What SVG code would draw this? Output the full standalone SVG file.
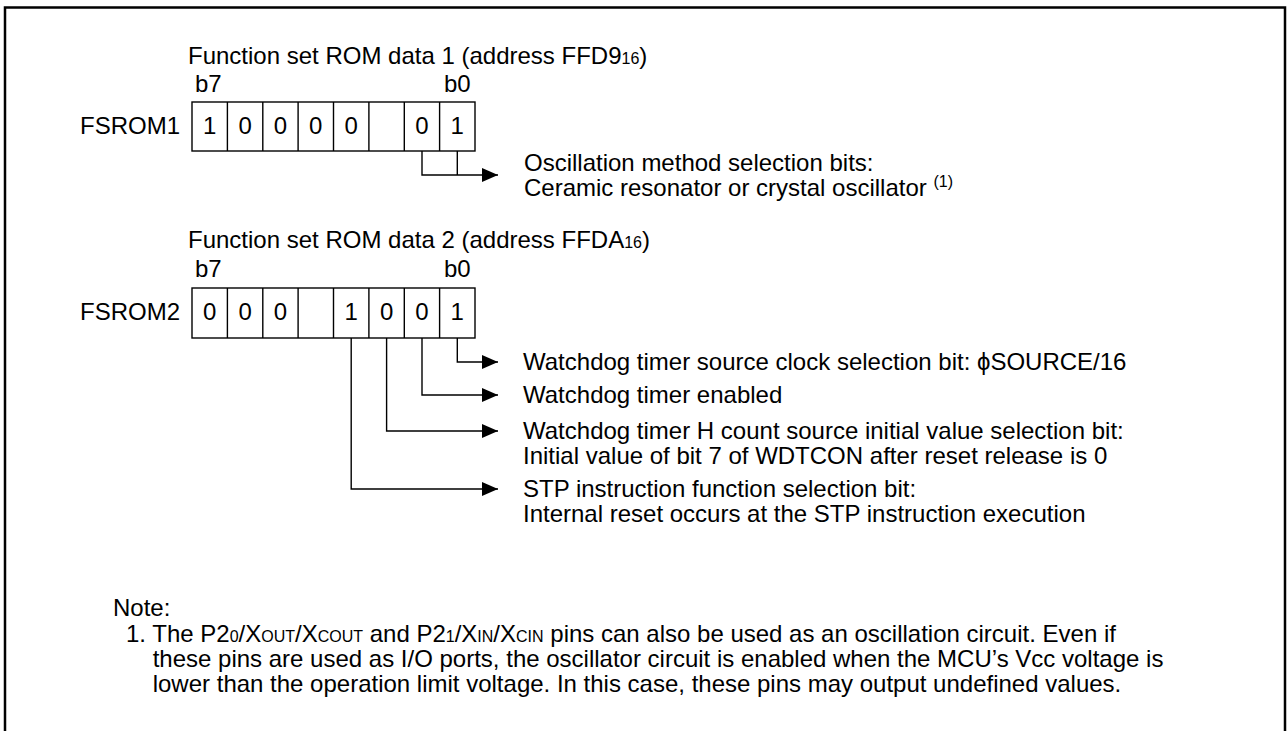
<svg xmlns="http://www.w3.org/2000/svg" width="1287" height="731" viewBox="0 0 1287 731">
<style>
text{font-family:"Liberation Sans",Arial,sans-serif;font-size:24px;fill:#000}
.c{text-anchor:middle}
.sm{font-size:16px}
.cell{fill:#fff;stroke:#000;stroke-width:1.4}
.ln{fill:none;stroke:#000;stroke-width:1.4}
.frame{fill:none;stroke:#000;stroke-width:2.5}
</style>
<defs>
<marker id="ah" markerUnits="userSpaceOnUse" markerWidth="18" markerHeight="16" refX="16" refY="8" orient="auto">
<polygon points="0,1 16,8 0,15" fill="#000"/>
</marker>
</defs>
<rect width="1287" height="731" fill="#fff"/>
<path class="frame" d="M5,740 V7.5 H1285 V740"/>

<g id="fsrom1">
<text x="188" y="64">Function set ROM data 1 (address FFD9<tspan class="sm">16</tspan>)</text>
<text x="195" y="92">b7</text>
<text x="444" y="92">b0</text>
<text x="80" y="134">FSROM1</text>
<rect class="cell" x="192" y="102" width="283" height="49"/>
<path class="ln" d="M227.4,102V151M262.8,102V151M298.1,102V151M333.5,102V151M368.9,102V151M404.3,102V151M439.6,102V151"/>
<text class="c" x="209.7" y="134">1</text>
<text class="c" x="245.1" y="134">0</text>
<text class="c" x="280.5" y="134">0</text>
<text class="c" x="315.8" y="134">0</text>
<text class="c" x="351.2" y="134">0</text>
<text class="c" x="422" y="134">0</text>
<text class="c" x="457.3" y="134">1</text>
</g>

<g id="fsrom2">
<text x="188" y="248">Function set ROM data 2 (address FFDA<tspan class="sm">16</tspan>)</text>
<text x="195" y="277">b7</text>
<text x="444" y="277">b0</text>
<text x="80" y="320">FSROM2</text>
<rect class="cell" x="192" y="288" width="283" height="50"/>
<path class="ln" d="M227.4,288V338M262.8,288V338M298.1,288V338M333.5,288V338M368.9,288V338M404.3,288V338M439.6,288V338"/>
<text class="c" x="209.7" y="320">0</text>
<text class="c" x="245.1" y="320">0</text>
<text class="c" x="280.5" y="320">0</text>
<text class="c" x="351.2" y="320">1</text>
<text class="c" x="386.6" y="320">0</text>
<text class="c" x="422" y="320">0</text>
<text class="c" x="457.3" y="320">1</text>
</g>

<g id="connectors">
<path class="ln" d="M422,151V175H498" marker-end="url(#ah)"/>
<path class="ln" d="M457.3,151V175"/>
<path class="ln" d="M457.3,338V362H498" marker-end="url(#ah)"/>
<path class="ln" d="M422,338V395H498" marker-end="url(#ah)"/>
<path class="ln" d="M386.6,338V431H498" marker-end="url(#ah)"/>
<path class="ln" d="M351.2,338V489H498" marker-end="url(#ah)"/>
</g>

<g id="label-osc">
<text x="524" y="171">Oscillation method selection bits:</text>
<text x="524" y="196">Ceramic resonator or crystal oscillator <tspan class="sm" dy="-9">(1)</tspan></text>
</g>
<g id="label-b0">
<text x="523" y="370">Watchdog timer source clock selection bit: ϕSOURCE/16</text>
</g>
<g id="label-b1">
<text x="523" y="403">Watchdog timer enabled</text>
</g>
<g id="label-b2">
<text x="523" y="439">Watchdog timer H count source initial value selection bit:</text>
<text x="523" y="464">Initial value of bit 7 of WDTCON after reset release is 0</text>
</g>
<g id="label-b3">
<text x="523" y="497">STP instruction function selection bit:</text>
<text x="523" y="522">Internal reset occurs at the STP instruction execution</text>
</g>

<g id="note">
<text x="113" y="616">Note:</text>
<text x="126" y="642">1. The P2<tspan class="sm">0</tspan>/X<tspan class="sm">OUT</tspan>/X<tspan class="sm">COUT</tspan> and P2<tspan class="sm">1</tspan>/X<tspan class="sm">IN</tspan>/X<tspan class="sm">CIN</tspan> pins can also be used as an oscillation circuit. Even if</text>
<text x="152.7" y="667">these pins are used as I/O ports, the oscillator circuit is enabled when the MCU’s Vcc voltage is</text>
<text x="152.7" y="692">lower than the operation limit voltage. In this case, these pins may output undefined values.</text>
</g>
</svg>
